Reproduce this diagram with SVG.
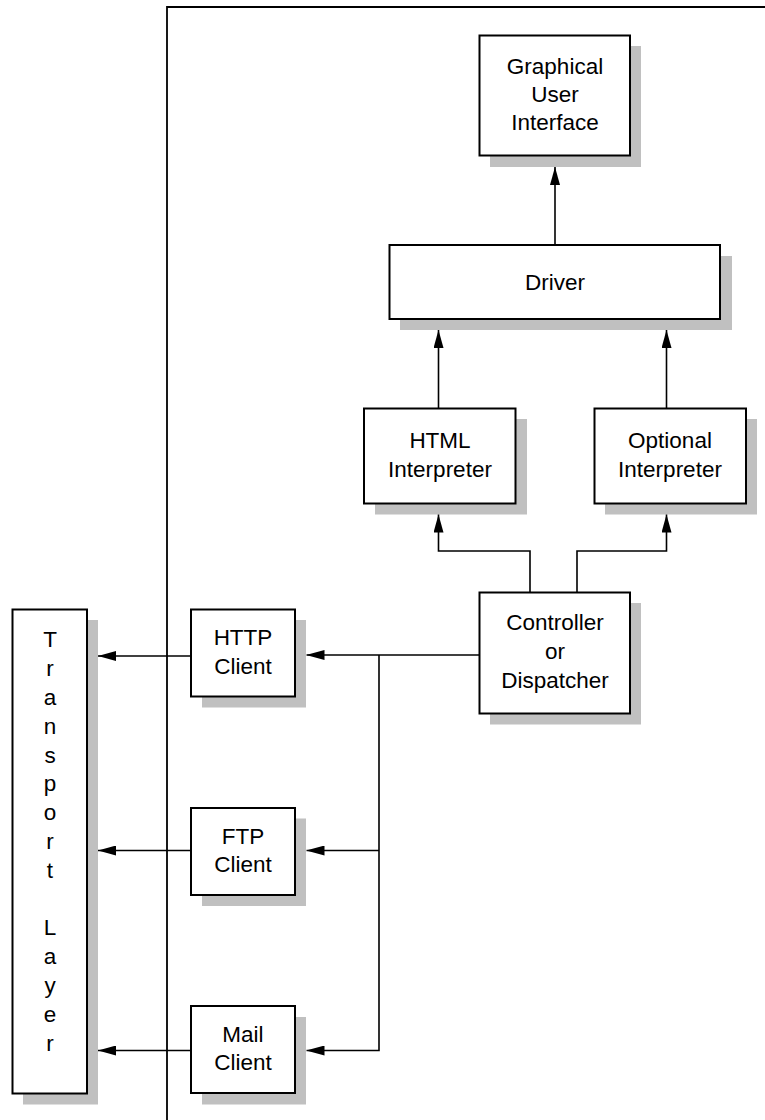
<svg xmlns="http://www.w3.org/2000/svg" width="765" height="1120" viewBox="0 0 765 1120">
<defs>
<style>
.box{fill:#fff;stroke:#000;stroke-width:2}
.sh{fill:#c0c0c0}
.t{font-family:"Liberation Sans",Arial,sans-serif;font-size:22.5px;text-anchor:middle;fill:#000}
.c{fill:none;stroke:#000;stroke-width:1.6}
</style>
<marker id="ah" viewBox="0 0 18 10" refX="18" refY="5" markerWidth="18" markerHeight="10" markerUnits="userSpaceOnUse" orient="auto">
<path d="M0,0 L18,5 L0,10 z" fill="#000"/>
</marker>
</defs>
<rect width="765" height="1120" fill="#fff"/>
<g id="frame">
<path d="M167,1120 L167,7 L766,7" fill="none" stroke="#000" stroke-width="1.8"/>
</g>
<g id="gui">
<rect class="sh" x="490" y="46" width="151" height="121"/>
<rect class="box" x="479.5" y="35.5" width="150.5" height="120"/>
<text class="t" x="555" y="74">Graphical</text>
<text class="t" x="555" y="102">User</text>
<text class="t" x="555" y="130">Interface</text>
</g>
<g id="driver">
<rect class="sh" x="400" y="256" width="332" height="74"/>
<rect class="box" x="389.5" y="245" width="330.5" height="74"/>
<text class="t" x="555" y="290">Driver</text>
</g>
<g id="html">
<rect class="sh" x="375" y="419" width="152" height="95.5"/>
<rect class="box" x="364" y="408.5" width="151.5" height="95"/>
<text class="t" x="440" y="448">HTML</text>
<text class="t" x="440" y="477">Interpreter</text>
</g>
<g id="optional">
<rect class="sh" x="605" y="419" width="152" height="95.5"/>
<rect class="box" x="594.5" y="408.5" width="151.5" height="95"/>
<text class="t" x="670" y="448">Optional</text>
<text class="t" x="670" y="477">Interpreter</text>
</g>
<g id="controller">
<rect class="sh" x="490" y="603" width="151" height="121.5"/>
<rect class="box" x="479.5" y="592.5" width="150.5" height="121"/>
<text class="t" x="555" y="630">Controller</text>
<text class="t" x="555" y="658.5">or</text>
<text class="t" x="555" y="687.5">Dispatcher</text>
</g>
<g id="http">
<rect class="sh" x="202" y="620" width="104" height="87.5"/>
<rect class="box" x="191" y="609.5" width="104" height="87"/>
<text class="t" x="243" y="645">HTTP</text>
<text class="t" x="243" y="673.5">Client</text>
</g>
<g id="ftp">
<rect class="sh" x="202" y="818.5" width="104" height="87.5"/>
<rect class="box" x="191" y="808" width="104" height="87"/>
<text class="t" x="243" y="843.5">FTP</text>
<text class="t" x="243" y="872">Client</text>
</g>
<g id="mail">
<rect class="sh" x="202" y="1017" width="104" height="87.5"/>
<rect class="box" x="191" y="1006" width="104" height="87"/>
<text class="t" x="243" y="1042">Mail</text>
<text class="t" x="243" y="1070">Client</text>
</g>
<g id="transport">
<rect class="sh" x="23" y="620" width="75" height="484.5"/>
<rect class="box" x="12.5" y="609.5" width="74.5" height="484"/>
<text class="t" x="50" y="647.3">T</text>
<text class="t" x="50" y="676.1">r</text>
<text class="t" x="50" y="704.9">a</text>
<text class="t" x="50" y="733.7">n</text>
<text class="t" x="50" y="762.5">s</text>
<text class="t" x="50" y="791.3">p</text>
<text class="t" x="50" y="820.1">o</text>
<text class="t" x="50" y="848.9">r</text>
<text class="t" x="50" y="877.7">t</text>
<text class="t" x="50" y="935.3">L</text>
<text class="t" x="50" y="964.1">a</text>
<text class="t" x="50" y="992.9">y</text>
<text class="t" x="50" y="1021.7">e</text>
<text class="t" x="50" y="1050.5">r</text>
</g>
<g id="connectors">
<path class="c" d="M555,245 L555,167" marker-end="url(#ah)"/>
<path class="c" d="M438.5,408.5 L438.5,330" marker-end="url(#ah)"/>
<path class="c" d="M666.5,408.5 L666.5,330" marker-end="url(#ah)"/>
<path class="c" d="M530,592.5 L530,551 L438.5,551 L438.5,514.5" marker-end="url(#ah)"/>
<path class="c" d="M577,592.5 L577,551 L666.5,551 L666.5,514.5" marker-end="url(#ah)"/>
<path class="c" d="M479.5,655 L306.5,655" marker-end="url(#ah)"/>
<path class="c" d="M379,655 L379,1050.5 L306.5,1050.5" marker-end="url(#ah)"/>
<path class="c" d="M379,850.5 L306.5,850.5" marker-end="url(#ah)"/>
<path class="c" d="M191,656 L98,656" marker-end="url(#ah)"/>
<path class="c" d="M191,850.5 L98,850.5" marker-end="url(#ah)"/>
<path class="c" d="M191,1050.5 L98,1050.5" marker-end="url(#ah)"/>
</g>
</svg>
